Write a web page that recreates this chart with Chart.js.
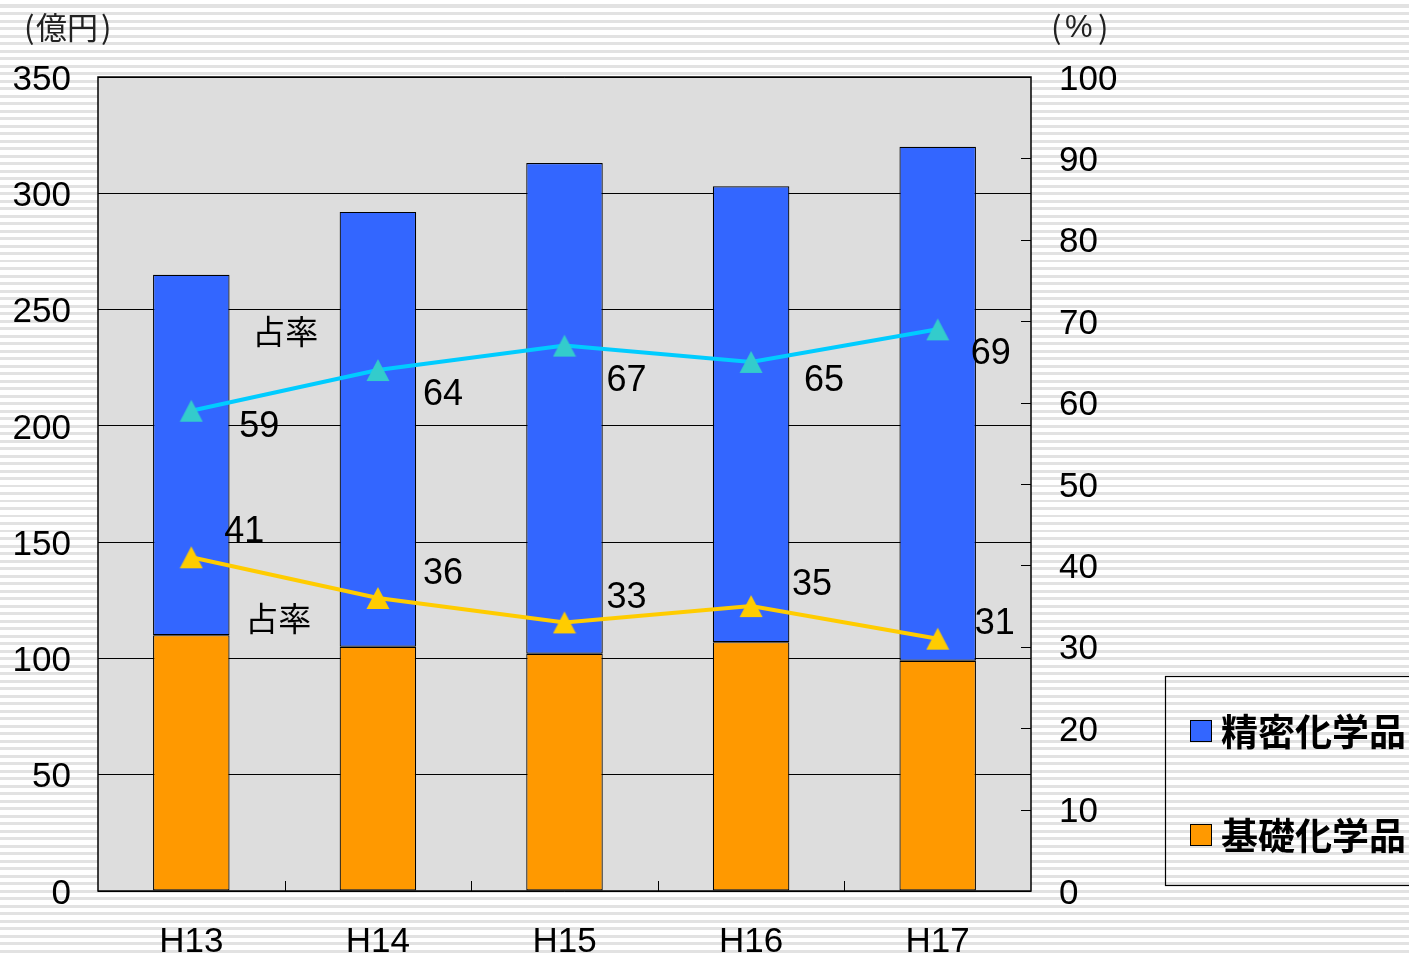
<!DOCTYPE html>
<html>
<head>
<meta charset="utf-8">
<script src="https://cdn.jsdelivr.net/npm/chart.js@4"></script>
<style>
  html, body { margin: 0; padding: 0; }
  body {
    width: 1409px; height: 957px; overflow: hidden;
    background: repeating-linear-gradient(to bottom, #ffffff 0px, #ffffff 4.5px, #e2e2e2 4.5px, #e2e2e2 7.5px);
  }
  #wrap { position: absolute; left: 0; top: 0; width: 1409px; height: 957px; }
</style>
</head>
<body>
<div id="wrap"><canvas id="c" width="1409" height="957"></canvas></div>
<script>
const categories = ['H13', 'H14', 'H15', 'H16', 'H17'];
const basicChem = [110, 105, 102, 107, 99];      // 基礎化学品 (億円)
const fineChem = [155, 187, 211, 196, 221];      // 精密化学品 (億円)
const fineShare = [59, 64, 67, 65, 69];          // 精密 占率 (%)
const basicShare = [41, 36, 33, 35, 31];         // 基礎 占率 (%)
const leftTicks = [0, 50, 100, 150, 200, 250, 300, 350];
const rightTicks = [0, 10, 20, 30, 40, 50, 60, 70, 80, 90, 100];

const NUM_FONT = '"Liberation Sans", Arial, sans-serif';
const CJK_FONT = '"Noto Sans CJK JP", sans-serif';

// label nudges relative to each data point (drawing style, not data)
const fineNudge = [[68, 16], [65, 25], [62, 35], [73, 19], [53, 25]];
const basicNudge = [[53, -25], [65, -24], [62, -24], [61, -21], [57, -15]];

function triangleMarker(color) {
  const c = document.createElement('canvas');
  c.width = 24; c.height = 24;
  const g = c.getContext('2d');
  g.fillStyle = color;
  g.beginPath();
  g.moveTo(12, 1); g.lineTo(23.5, 23); g.lineTo(0.5, 23); g.closePath();
  g.fill();
  return c;
}

const decorPlugin = {
  id: 'decor',
  beforeDraw(chart) {
    const { ctx, chartArea: a } = chart;
    ctx.save();
    ctx.fillStyle = '#dddddd';
    ctx.fillRect(a.left, a.top, a.right - a.left, a.bottom - a.top);
    ctx.restore();
  },
  afterDatasetsDraw(chart) {
    const { ctx, chartArea: a, scales } = chart;
    ctx.save();
    ctx.strokeStyle = '#000';
    ctx.lineWidth = 1.5;
    ctx.strokeRect(a.left, a.top, a.right - a.left, a.bottom - a.top);
    ctx.lineWidth = 1;
    rightTicks.forEach(v => {
      const y = Math.round(scales.y1.getPixelForValue(v)) + 0.5;
      ctx.beginPath(); ctx.moveTo(a.right - 10, y); ctx.lineTo(a.right, y); ctx.stroke();
    });
    const n = categories.length;
    const w = (a.right - a.left) / n;
    for (let k = 1; k < n; k++) {
      const x = Math.round(a.left + w * k) + 0.5;
      ctx.beginPath(); ctx.moveTo(x, a.bottom - 10); ctx.lineTo(x, a.bottom); ctx.stroke();
    }
    ctx.fillStyle = '#000';
    ctx.font = '36px ' + NUM_FONT;
    ctx.textAlign = 'center';
    ctx.textBaseline = 'middle';
    const mFine = chart.getDatasetMeta(2);
    const mBasic = chart.getDatasetMeta(3);
    mFine.data.forEach((p, i) => ctx.fillText(String(fineShare[i]), p.x + fineNudge[i][0], p.y + fineNudge[i][1]));
    mBasic.data.forEach((p, i) => ctx.fillText(String(basicShare[i]), p.x + basicNudge[i][0], p.y + basicNudge[i][1]));
    ctx.font = '33px ' + CJK_FONT;
    const p0 = mFine.data[0], q0 = mBasic.data[0];
    ctx.fillText('占率', p0.x + 94, p0.y - 79);
    ctx.fillText('占率', q0.x + 87, q0.y + 61);
    // axis unit titles
    ctx.font = '31px ' + CJK_FONT;
    ctx.textAlign = 'left';
    ctx.fillStyle = '#222';
    ctx.fillText('(', 24, 27);
    ctx.fillText('億円', 36, 27);
    ctx.fillText(')', 101, 27);
    ctx.fillText('(', 1051, 27);
    ctx.font = '31px ' + NUM_FONT;
    ctx.fillText('%', 1065, 28);
    ctx.font = '31px ' + CJK_FONT;
    ctx.fillText(')', 1098, 27);
    // legend
    ctx.strokeStyle = '#000';
    ctx.lineWidth = 1.2;
    ctx.strokeRect(1165.5, 676.5, 300, 209);
    const items = [
      { label: chart.data.datasets[1].label, color: chart.data.datasets[1].backgroundColor, y: 731 },
      { label: chart.data.datasets[0].label, color: chart.data.datasets[0].backgroundColor, y: 835 }
    ];
    items.forEach(it => {
      ctx.fillStyle = it.color;
      ctx.fillRect(1190, it.y - 11, 22, 22);
      ctx.lineWidth = 1;
      ctx.strokeStyle = '#000';
      ctx.strokeRect(1190.5, it.y - 10.5, 21, 21);
      ctx.fillStyle = '#000';
      ctx.font = 'bold 37px ' + CJK_FONT;
      ctx.textAlign = 'left';
      ctx.textBaseline = 'middle';
      ctx.fillText(it.label, 1221, it.y + 1);
    });
    ctx.restore();
  }
};

new Chart(document.getElementById('c'), {
  data: {
    labels: categories,
    datasets: [
      {
        type: 'bar', label: '基礎化学品', data: basicChem, yAxisID: 'y', stack: 's',
        backgroundColor: '#ff9900', borderColor: '#000', borderWidth: 1.2, borderSkipped: false,
        barPercentage: 0.41, categoryPercentage: 1.0, order: 2
      },
      {
        type: 'bar', label: '精密化学品', data: fineChem, yAxisID: 'y', stack: 's',
        backgroundColor: '#3366ff', borderColor: '#000', borderWidth: 1.2, borderSkipped: false,
        barPercentage: 0.41, categoryPercentage: 1.0, order: 2
      },
      {
        type: 'line', label: '精密占率', data: fineShare, yAxisID: 'y1',
        borderColor: '#00ccff', borderWidth: 4, tension: 0,
        pointStyle: triangleMarker('#33cccc'), pointRadius: 12,
        order: 1
      },
      {
        type: 'line', label: '基礎占率', data: basicShare, yAxisID: 'y1',
        borderColor: '#ffcc00', borderWidth: 4, tension: 0,
        pointStyle: triangleMarker('#ffcc00'), pointRadius: 12,
        order: 1
      }
    ]
  },
  options: {
    responsive: false,
    animation: false,
    layout: { padding: { top: 77, left: 0, right: 0, bottom: 0 } },
    plugins: { legend: { display: false }, tooltip: { enabled: false } },
    scales: {
      x: {
        stacked: true,
        offset: true,
        grid: { display: false, drawTicks: false },
        border: { display: false },
        ticks: { color: '#000', font: { family: NUM_FONT, size: 35 }, padding: 30, maxRotation: 0 },
        afterFit(s) { s.height = 66; }
      },
      y: {
        position: 'left', stacked: true, min: 0, max: 350,
        afterBuildTicks(s) { s.ticks = leftTicks.map(v => ({ value: v })); },
        grid: { color: '#000', lineWidth: 1, drawTicks: false },
        border: { display: false },
        ticks: { color: '#000', font: { family: NUM_FONT, size: 35 }, padding: 27, labelOffset: 3 },
        afterFit(s) { s.width = 98; }
      },
      y1: {
        position: 'right', min: 0, max: 100,
        afterBuildTicks(s) { s.ticks = rightTicks.map(v => ({ value: v })); },
        grid: { display: false, drawTicks: false },
        border: { display: false },
        ticks: { color: '#000', font: { family: NUM_FONT, size: 35 }, padding: 28, labelOffset: 3 },
        afterFit(s) { s.width = 1409 - 1031; }
      }
    }
  },
  plugins: [decorPlugin]
});
</script>
</body>
</html>
